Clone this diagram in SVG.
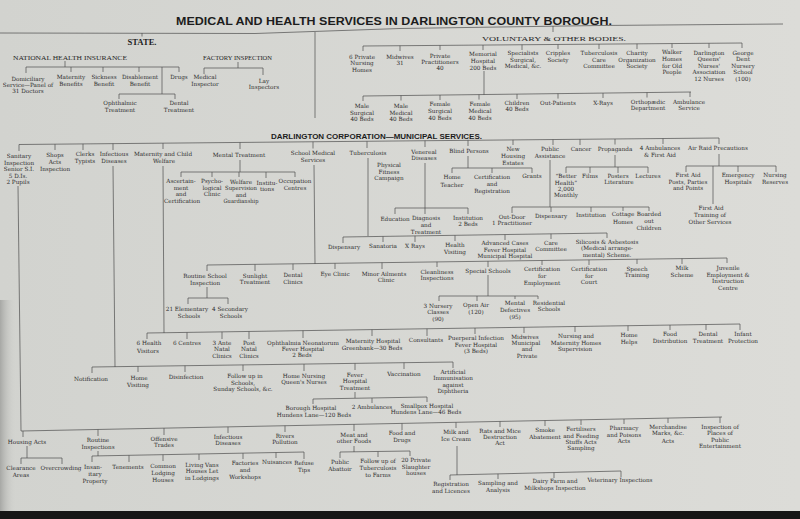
<svg xmlns="http://www.w3.org/2000/svg" width="800" height="519" viewBox="0 0 800 519">
<defs>
<linearGradient id="bg" x1="0" y1="0" x2="1" y2="0"><stop offset="0" stop-color="#d2d3cf"/><stop offset="1" stop-color="#dcdcd8"/></linearGradient>
<linearGradient id="sh" x1="0" y1="0" x2="1" y2="0"><stop offset="0" stop-color="#9c9d9a" stop-opacity="0.8"/><stop offset="1" stop-color="#d2d3cf" stop-opacity="0"/></linearGradient>
<style>
.t{font-family:"DejaVu Serif","Liberation Serif",serif;font-size:5.7px;fill:#2f2f2f;text-anchor:middle}
.c{stroke:#4d4d4d;stroke-width:0.7;fill:none}
.h1{font-family:"Liberation Sans","DejaVu Sans",sans-serif;font-weight:bold;font-size:10px;fill:#1c1c1c}
.h2{font-family:"Liberation Sans","DejaVu Sans",sans-serif;font-weight:bold;font-size:8px;fill:#1c1c1c}
.cap{font-family:"Liberation Serif","DejaVu Serif",serif;font-size:7px;fill:#262626}
</style>
</defs>
<rect width="800" height="519" fill="url(#bg)"/>
<rect x="0" y="300" width="16" height="211" fill="url(#sh)"/>
<rect x="0" y="511" width="800" height="8" fill="#161616"/>

<g id="headings">
<text class="h1" x="176" y="25" textLength="436" lengthAdjust="spacingAndGlyphs">MEDICAL AND HEALTH SERVICES IN DARLINGTON COUNTY BOROUGH.</text>
<text class="h2" x="271" y="139" textLength="211" lengthAdjust="spacingAndGlyphs">DARLINGTON CORPORATION—MUNICIPAL SERVICES.</text>
</g>

<g id="connectors">
<path class="c" stroke-width="1" d="M0,33 L255,33.5 L400,28.5 L600,25.5 L783,24"/>
<path class="c" d="M142,33 V36.5 M553,26 V32 M315,32 V118"/>
<path class="c" d="M65,61 V67 M26,67 H179 M26,67 V73 M71,67 V72 M103,67 V72 M139,67 V72 M179,67 V72 M162,67 V94 M119,94 H175 M119,94 V99 M175,94 V99"/>
<path class="c" d="M238,62 V68 M204,68 H263 M204,68 V74 M263,68 V75"/>
<path class="c" d="M363,46 L742,43 M363,46 V51 M400,45.7 V51 M440,45.4 V50 M483,45 V50 M522,44.7 V50 M558,44.5 V49 M599,44.1 V49 M637,43.8 V49 M672,43.6 V48 M709,43.3 V48 M742,43 V48"/>
<path class="c" d="M484,71 V94.8 M363,96 L691,92 M363,96 V101 M401,95.5 V100.5 M440,95 V100 M479,94.6 V99.6 M517,94.1 V99 M558,93.6 V98.6 M603,93.1 V98 M647,92.5 V97.5 M690,92 V97"/>
<path class="c" d="M19,144.5 L719,138 M19,144.5 V151 M55,144.2 V150 M83,143.9 V150 M113,143.6 V150 M163,143.2 V149 M240,142.4 V149 M313,141.8 V148.5 M367,141.3 V148 M425,140.7 V147 M468,140.3 V146 M513,139.9 V145 M553,139.5 V145 M580,139.3 V145 M615,139 V144.5 M663,138.5 V144 M719,138 V144"/>
<path class="c" d="M18,186 L21,431 M113,166 L115,367 M163,166 L164,333"/>
<path class="c" d="M240,160 V172 M181,172 H295 M181,172 V177 M212,172 V177 M239,172 V177 M266,172 V178 M295,172 V177"/>
<path class="c" d="M314,165 L315,264 M207,265 L727,258 M207,265 V271 M255,264.4 V271 M293,263.8 V270 M335,263.3 V269 M382,262.6 V269 M437,261.9 V267 M488,261.2 V267 M542,260.5 V265 M589,259.9 V265 M637,259.2 V264 M682,258.6 V264 M727,258 V263"/>
<path class="c" d="M207,287 V298 M188,298 H228 M188,298 V304 M228,298 V304"/>
<path class="c" d="M488,275 V296 M439,296 H538 M439,296 V301 M477,296 V301 M515,296 V299 M538,296 V299"/>
<path class="c" d="M368,158 V236 M343,237 L607,233 M343,237 V243 M383,236.4 V242 M415,235.9 V242 M455,235.3 V241 M505,234.5 V240 M551,233.8 V239 M607,233 V238"/>
<path class="c" d="M425,163 V208 M395,208 H468 M395,208 V214 M425,208 V214 M468,208 V214"/>
<path class="c" d="M468,156 V168 M452,168 H532 M452,168 V173 M492,168 V173 M532,168 V173"/>
<path class="c" d="M550,160 V207 M512,207 H649 M512,207 V213 M551,207 V212 M591,207 V212 M623,207 V211 M649,207 V211"/>
<path class="c" d="M615,155 V167 M566,167 H648 M566,167 V173 M590,167 V173 M618,167 V173 M648,167 V173"/>
<path class="c" d="M719,154 V166 M686,166 H776 M686,166 V172 M738,166 V172 M776,166 V172 M713,166 V204"/>
<path class="c" d="M147,333 L740,324 M147,333 V339 M187,332.4 V339 M222,331.9 V339 M249,331.5 V339 M303,330.6 V338 M372,329.6 V336 M427,328.8 V336 M475,328 V334 M524,327.3 V333 M575,326.5 V332 M628,325.7 V331 M670,325.1 V330 M706,324.5 V330 M740,324 V330"/>
<path class="c" d="M92,367 L453,362 M92,367 V373 M138,366.4 V372 M185,365.7 V372 M243,364.9 V371 M304,364.1 V371 M355,363.4 V370 M404,362.7 V369 M453,362 V368"/>
<path class="c" d="M355,392 V398 M313,399 L427,397 M313,399 V404 M372,398 V403 M427,397 V402"/>
<path class="c" d="M21,431 L722,417 M23,431 V437 M98,429.5 V436 M164,428.1 V435 M228,426.9 V433 M285,425.7 V432 M354,424.3 V431 M402,423.4 V430 M456,422.3 V428 M500,421.4 V427 M545,420.5 V426 M581,419.8 V425 M624,419 V424 M668,418.1 V423 M720,417 V423"/>
<path class="c" d="M27,446 V458 M21,458 H62 M21,458 V464 M62,458 V464"/>
<path class="c" d="M98,451 V456 M92,456 L304,452 M92,456 V462 M129,455.3 V462 M163,454.7 V461 M199,454 V460 M243,453.2 V459 M276,452.5 V458 M304,452 V459"/>
<path class="c" d="M354,446 V452 M340,452 L410,451 M340,452 V458 M378,451.6 V457 M410,451 V456"/>
<path class="c" d="M457,446 V475 M450,475 L621,471 M450,475 V480 M498,473.9 V479 M554,472.6 V478 M621,471 V477"/>
</g>

<g id="state"><text x="142" y="45" text-anchor="middle" font-family="Liberation Serif,DejaVu Serif,serif" font-weight="bold" font-size="8" fill="#1f1f1f" textLength="29" lengthAdjust="spacingAndGlyphs">STATE.</text></g>
<g id="nhi"><text class="cap" x="13" y="60" textLength="114" lengthAdjust="spacingAndGlyphs">NATIONAL HEALTH INSURANCE</text></g>
<g id="domiciliary"><text class="t"><tspan x="28" y="81">Domiciliary</tspan><tspan x="28" y="87">Service—Panel of</tspan><tspan x="28" y="93">31 Doctors</tspan></text></g>
<g id="maternity-benefits"><text class="t"><tspan x="71" y="79">Maternity</tspan><tspan x="71" y="86">Benefits</tspan></text></g>
<g id="sickness"><text class="t"><tspan x="104" y="79">Sickness</tspan><tspan x="104" y="86">Benefit</tspan></text></g>
<g id="disablement"><text class="t"><tspan x="140" y="79">Disablement</tspan><tspan x="140" y="86">Benefit</tspan></text></g>
<g id="drugs"><text class="t" x="179" y="79">Drugs</text></g>
<g id="ophthalmic"><text class="t"><tspan x="120" y="105">Ophthalmic</tspan><tspan x="120" y="112">Treatment</tspan></text></g>
<g id="dental-nhi"><text class="t"><tspan x="179" y="105">Dental</tspan><tspan x="179" y="112">Treatment</tspan></text></g>

<g id="factory"><text class="cap" x="203" y="60" font-size="6.5" textLength="69" lengthAdjust="spacingAndGlyphs">FACTORY INSPECTION</text></g>
<g id="medical-inspector"><text class="t"><tspan x="205" y="79">Medical</tspan><tspan x="205" y="86">Inspector</tspan></text></g>
<g id="lay-inspectors"><text class="t"><tspan x="264" y="83">Lay</tspan><tspan x="264" y="89">Inspectors</tspan></text></g>

<g id="voluntary"><text class="cap" x="482" y="41" font-size="7.5" textLength="144" lengthAdjust="spacingAndGlyphs">VOLUNTARY &amp; OTHER BODIES.</text></g>
<g id="nursing-homes"><text class="t"><tspan x="362" y="59">6 Private</tspan><tspan x="362" y="65">Nursing</tspan><tspan x="362" y="72">Homes</tspan></text></g>
<g id="midwives-vol"><text class="t"><tspan x="400" y="59">Midwives</tspan><tspan x="400" y="65">31</tspan></text></g>
<g id="practitioners"><text class="t"><tspan x="440" y="58">Private</tspan><tspan x="440" y="64">Practitioners</tspan><tspan x="440" y="70">40</tspan></text></g>
<g id="memorial"><text class="t"><tspan x="483" y="56">Memorial</tspan><tspan x="483" y="63">Hospital</tspan><tspan x="483" y="70">200 Beds</tspan></text></g>
<g id="specialists"><text class="t"><tspan x="523" y="55">Specialists</tspan><tspan x="523" y="62">Surgical,</tspan><tspan x="523" y="68">Medical, &amp;c.</tspan></text></g>
<g id="cripples"><text class="t"><tspan x="558" y="55">Cripples</tspan><tspan x="558" y="62">Society</tspan></text></g>
<g id="tb-care"><text class="t"><tspan x="599" y="55">Tuberculosis</tspan><tspan x="599" y="62">Care</tspan><tspan x="599" y="68">Committee</tspan></text></g>
<g id="charity"><text class="t"><tspan x="637" y="55">Charity</tspan><tspan x="637" y="62">Organization</tspan><tspan x="637" y="68">Society</tspan></text></g>
<g id="walker"><text class="t"><tspan x="672" y="54">Walker</tspan><tspan x="672" y="61">Homes</tspan><tspan x="672" y="68">for Old</tspan><tspan x="672" y="74">People</tspan></text></g>
<g id="queens-nurses"><text class="t"><tspan x="709" y="55">Darlington</tspan><tspan x="709" y="61">Queens'</tspan><tspan x="709" y="68">Nurses'</tspan><tspan x="709" y="74">Association</tspan><tspan x="709" y="81">12 Nurses</tspan></text></g>
<g id="george-dent"><text class="t"><tspan x="743" y="55">George</tspan><tspan x="743" y="61">Dent</tspan><tspan x="743" y="68">Nursery</tspan><tspan x="743" y="74">School</tspan><tspan x="743" y="81">(100)</tspan></text></g>

<g id="male-surgical"><text class="t"><tspan x="362" y="108">Male</tspan><tspan x="362" y="115">Surgical</tspan><tspan x="362" y="121">40 Beds</tspan></text></g>
<g id="male-medical"><text class="t"><tspan x="401" y="108">Male</tspan><tspan x="401" y="115">Medical</tspan><tspan x="401" y="121">40 Beds</tspan></text></g>
<g id="female-surgical"><text class="t"><tspan x="440" y="106">Female</tspan><tspan x="440" y="113">Surgical</tspan><tspan x="440" y="120">40 Beds</tspan></text></g>
<g id="female-medical"><text class="t"><tspan x="480" y="106">Female</tspan><tspan x="480" y="113">Medical</tspan><tspan x="480" y="120">40 Beds</tspan></text></g>
<g id="children-beds"><text class="t"><tspan x="517" y="105">Children</tspan><tspan x="517" y="111">40 Beds</tspan></text></g>
<g id="out-patients"><text class="t" x="558" y="105">Out-Patients</text></g>
<g id="x-rays-hosp"><text class="t" x="603" y="105">X-Rays</text></g>
<g id="orthopaedic"><text class="t"><tspan x="648" y="104">Orthopædic</tspan><tspan x="648" y="110">Department</tspan></text></g>
<g id="ambulance"><text class="t"><tspan x="689" y="104">Ambulance</tspan><tspan x="689" y="110">Service</tspan></text></g>

<g id="sanitary"><text class="t"><tspan x="19" y="158">Sanitary</tspan><tspan x="19" y="164.5">Inspection</tspan><tspan x="19" y="171">Senior S.I.</tspan><tspan x="18" y="177.5">5 D.Is.</tspan><tspan x="18" y="184">2 Pupils</tspan></text></g>
<g id="shops"><text class="t"><tspan x="55" y="157">Shops</tspan><tspan x="55" y="164">Acts</tspan><tspan x="55" y="170.5">Inspection</tspan></text></g>
<g id="clerks"><text class="t"><tspan x="85" y="156">Clerks</tspan><tspan x="85" y="163">Typists</tspan></text></g>
<g id="infectious"><text class="t"><tspan x="114" y="156">Infectious</tspan><tspan x="114" y="163">Diseases</tspan></text></g>
<g id="maternity-child"><text class="t"><tspan x="163" y="156">Maternity and Child</tspan><tspan x="164" y="163">Welfare</tspan></text></g>
<g id="mental"><text class="t" x="239" y="157">Mental Treatment</text></g>
<g id="school-medical"><text class="t"><tspan x="313" y="155">School Medical</tspan><tspan x="313" y="162">Services</tspan></text></g>
<g id="tuberculosis"><text class="t" x="368" y="155">Tuberculosis</text></g>
<g id="physical"><text class="t"><tspan x="389" y="167">Physical</tspan><tspan x="389" y="173.5">Fitness</tspan><tspan x="389" y="180">Campaign</tspan></text></g>
<g id="venereal"><text class="t"><tspan x="424" y="154">Venereal</tspan><tspan x="424" y="160">Diseases</tspan></text></g>
<g id="blind"><text class="t" x="469" y="153">Blind Persons</text></g>
<g id="housing-estates"><text class="t"><tspan x="513" y="151">New</tspan><tspan x="513" y="158">Housing</tspan><tspan x="513" y="165">Estates</tspan></text></g>
<g id="public-assistance"><text class="t"><tspan x="550" y="151">Public</tspan><tspan x="550" y="158">Assistance</tspan></text></g>
<g id="cancer"><text class="t" x="581" y="151">Cancer</text></g>
<g id="propaganda"><text class="t" x="615" y="151">Propaganda</text></g>
<g id="ambulances-4"><text class="t"><tspan x="660" y="150">4 Ambulances</tspan><tspan x="660" y="157">&amp; First Aid</tspan></text></g>
<g id="air-raid"><text class="t" x="718" y="150">Air Raid Precautions</text></g>

<g id="ascertainment"><text class="t"><tspan x="181" y="183">Ascertain-</tspan><tspan x="181" y="189.5">ment</tspan><tspan x="181" y="196">and</tspan><tspan x="182" y="202.5">Certification</tspan></text></g>
<g id="psychological"><text class="t"><tspan x="212" y="183">Psycho-</tspan><tspan x="212" y="189.5">logical</tspan><tspan x="212" y="196">Clinic</tspan></text></g>
<g id="welfare-supervision"><text class="t"><tspan x="241" y="183.5">Welfare</tspan><tspan x="241" y="190" textLength="32" lengthAdjust="spacingAndGlyphs">Supervision</tspan><tspan x="241" y="196.5">and</tspan><tspan x="241" y="203" textLength="35" lengthAdjust="spacingAndGlyphs">Guardianship</tspan></text></g>
<g id="institutions-mt"><text class="t"><tspan x="267" y="184.5">Institu-</tspan><tspan x="267" y="191">tions</tspan></text></g>
<g id="occupation"><text class="t"><tspan x="295" y="183">Occupation</tspan><tspan x="295" y="189.5">Centres</tspan></text></g>

<g id="home-teacher"><text class="t"><tspan x="452" y="179">Home</tspan><tspan x="452" y="187">Teacher</tspan></text></g>
<g id="cert-registration"><text class="t"><tspan x="492" y="179">Certification</tspan><tspan x="492" y="186">and</tspan><tspan x="492" y="193">Registration</tspan></text></g>
<g id="grants"><text class="t" x="532" y="178">Grants</text></g>
<g id="better-health"><text class="t"><tspan x="566" y="178">“Better</tspan><tspan x="566" y="185">Health”</tspan><tspan x="566" y="191">2,000</tspan><tspan x="566" y="197">Monthly</tspan></text></g>
<g id="films"><text class="t" x="590" y="178">Films</text></g>
<g id="posters"><text class="t"><tspan x="618" y="178">Posters</tspan><tspan x="619" y="184">Literature</tspan></text></g>
<g id="lectures"><text class="t" x="648" y="178">Lectures</text></g>
<g id="first-aid-posts"><text class="t"><tspan x="688" y="177">First Aid</tspan><tspan x="688" y="184">Posts, Parties</tspan><tspan x="688" y="190">and Points</tspan></text></g>
<g id="emergency"><text class="t"><tspan x="738" y="177">Emergency</tspan><tspan x="738" y="184">Hospitals</tspan></text></g>
<g id="nursing-reserves"><text class="t"><tspan x="775" y="177">Nursing</tspan><tspan x="775" y="184">Reserves</tspan></text></g>
<g id="first-aid-training"><text class="t"><tspan x="711" y="210">First Aid</tspan><tspan x="710" y="217">Training of</tspan><tspan x="710" y="224">Other Services</tspan></text></g>

<g id="education"><text class="t" x="395" y="221">Education</text></g>
<g id="diagnosis"><text class="t"><tspan x="426" y="220">Diagnosis</tspan><tspan x="426" y="227">and</tspan><tspan x="426" y="234">Treatment</tspan></text></g>
<g id="institution-2beds"><text class="t"><tspan x="468" y="220">Institution</tspan><tspan x="468" y="226">2 Beds</tspan></text></g>
<g id="out-door"><text class="t"><tspan x="512" y="219">Out-Door</tspan><tspan x="512" y="225">1 Practitioner</tspan></text></g>
<g id="dispensary-pa"><text class="t" x="551" y="218">Dispensary</text></g>
<g id="institution-pa"><text class="t" x="591" y="217">Institution</text></g>
<g id="cottage"><text class="t"><tspan x="623" y="216">Cottage</tspan><tspan x="623" y="224">Homes</tspan></text></g>
<g id="boarded"><text class="t"><tspan x="649" y="216">Boarded</tspan><tspan x="649" y="223">out</tspan><tspan x="649" y="230">Children</tspan></text></g>

<g id="dispensary-tb"><text class="t" x="344" y="249">Dispensary</text></g>
<g id="sanatoria"><text class="t" x="383" y="248">Sanatoria</text></g>
<g id="x-rays-tb"><text class="t" x="415" y="248">X Rays</text></g>
<g id="health-visiting"><text class="t"><tspan x="455" y="247">Health</tspan><tspan x="455" y="254">Visiting</tspan></text></g>
<g id="advanced-cases"><text class="t"><tspan x="505" y="245">Advanced Cases</tspan><tspan x="505" y="252">Fever Hospital</tspan><tspan x="505" y="258">Municipal Hospital</tspan></text></g>
<g id="care-committee"><text class="t"><tspan x="551" y="245">Care</tspan><tspan x="551" y="251">Committee</tspan></text></g>
<g id="silicosis"><text class="t"><tspan x="607" y="244">Silicosis &amp; Asbestosis</tspan><tspan x="607" y="250">(Medical arrange-</tspan><tspan x="607" y="257">mental) Scheme.</tspan></text></g>

<g id="routine-school"><text class="t"><tspan x="205" y="278">Routine School</tspan><tspan x="205" y="285">Inspection</tspan></text></g>
<g id="sunlight"><text class="t"><tspan x="255" y="278">Sunlight</tspan><tspan x="255" y="284">Treatment</tspan></text></g>
<g id="dental-clinics"><text class="t"><tspan x="293" y="277">Dental</tspan><tspan x="293" y="284">Clinics</tspan></text></g>
<g id="eye-clinic"><text class="t" x="335" y="276">Eye Clinic</text></g>
<g id="minor-ailments"><text class="t"><tspan x="384" y="276">Minor Ailments</tspan><tspan x="386" y="282">Clinic</tspan></text></g>
<g id="cleanliness"><text class="t"><tspan x="437" y="274">Cleanliness</tspan><tspan x="437" y="280">Inspections</tspan></text></g>
<g id="special-schools"><text class="t" x="488" y="273">Special Schools</text></g>
<g id="cert-employment"><text class="t"><tspan x="542" y="271">Certification</tspan><tspan x="542" y="278">for</tspan><tspan x="542" y="285">Employment</tspan></text></g>
<g id="cert-court"><text class="t"><tspan x="589" y="271">Certification</tspan><tspan x="589" y="278">for</tspan><tspan x="589" y="284">Court</tspan></text></g>
<g id="speech"><text class="t"><tspan x="637" y="271">Speech</tspan><tspan x="637" y="277">Training</tspan></text></g>
<g id="milk-scheme"><text class="t"><tspan x="682" y="270">Milk</tspan><tspan x="682" y="277">Scheme</tspan></text></g>
<g id="juvenile"><text class="t"><tspan x="728" y="270">Juvenile</tspan><tspan x="728" y="277">Employment &amp;</tspan><tspan x="728" y="283">Instruction</tspan><tspan x="728" y="290">Centre</tspan></text></g>

<g id="elementary"><text class="t"><tspan x="187" y="311">21 Elementary</tspan><tspan x="189" y="318">Schools</tspan></text></g>
<g id="secondary"><text class="t"><tspan x="230" y="311">4 Secondary</tspan><tspan x="231" y="318">Schools</tspan></text></g>
<g id="nursery-classes"><text class="t"><tspan x="438" y="308">3 Nursery</tspan><tspan x="438" y="314">Classes</tspan><tspan x="438" y="321">(90)</tspan></text></g>
<g id="open-air"><text class="t"><tspan x="476" y="307">Open Air</tspan><tspan x="476" y="314">(120)</tspan></text></g>
<g id="mental-defectives"><text class="t"><tspan x="515" y="305">Mental</tspan><tspan x="515" y="312">Defectives</tspan><tspan x="515" y="319">(95)</tspan></text></g>
<g id="residential"><text class="t"><tspan x="549" y="305">Residential</tspan><tspan x="549" y="311">Schools</tspan></text></g>

<g id="health-visitors"><text class="t"><tspan x="149" y="345">6 Health</tspan><tspan x="148" y="353">Visitors</tspan></text></g>
<g id="centres"><text class="t" x="187" y="345">6 Centres</text></g>
<g id="ante-natal"><text class="t"><tspan x="222" y="345">3 Ante</tspan><tspan x="222" y="351">Natal</tspan><tspan x="222" y="358">Clinics</tspan></text></g>
<g id="post-natal"><text class="t"><tspan x="249" y="345">Post</tspan><tspan x="249" y="351">Natal</tspan><tspan x="249" y="358">Clinics</tspan></text></g>
<g id="ophthalmia"><text class="t"><tspan x="303" y="345">Ophthalmia Neonatorum</tspan><tspan x="303" y="351">Fever  Hospital</tspan><tspan x="302" y="357">2 Beds</tspan></text></g>
<g id="maternity-hospital"><text class="t"><tspan x="373" y="342.5">Maternity Hospital</tspan><tspan x="372" y="350">Greenbank—30 Beds</tspan></text></g>
<g id="consultants"><text class="t" x="426" y="342">Consultants</text></g>
<g id="puerperal"><text class="t"><tspan x="476" y="340">Puerperal Infection</tspan><tspan x="476" y="346.5">Fever  Hospital</tspan><tspan x="476" y="353">(3 Beds)</tspan></text></g>
<g id="midwives-mun"><text class="t"><tspan x="525" y="339">Midwives</tspan><tspan x="526" y="345">Municipal</tspan><tspan x="527" y="351">and</tspan><tspan x="527" y="358">Private</tspan></text></g>
<g id="nursing-homes-sup"><text class="t"><tspan x="576" y="338">Nursing and</tspan><tspan x="576" y="344.5">Maternity Homes</tspan><tspan x="575" y="351">Supervision</tspan></text></g>
<g id="home-helps"><text class="t"><tspan x="629" y="337">Home</tspan><tspan x="629" y="344">Helps</tspan></text></g>
<g id="food-distribution"><text class="t"><tspan x="670" y="336">Food</tspan><tspan x="670" y="343">Distribution</tspan></text></g>
<g id="dental-treatment"><text class="t"><tspan x="708" y="336">Dental</tspan><tspan x="708" y="343">Treatment</tspan></text></g>
<g id="infant-protection"><text class="t"><tspan x="743" y="336">Infant</tspan><tspan x="743" y="343">Protection</tspan></text></g>

<g id="notification"><text class="t" x="91" y="381">Notification</text></g>
<g id="home-visiting"><text class="t"><tspan x="139" y="380">Home</tspan><tspan x="138" y="387">Visiting</tspan></text></g>
<g id="disinfection"><text class="t" x="186" y="379">Disinfection</text></g>
<g id="follow-schools"><text class="t"><tspan x="245" y="378">Follow up in</tspan><tspan x="243" y="385">Schools,</tspan><tspan x="243" y="391">Sunday Schools, &amp;c.</tspan></text></g>
<g id="home-nursing"><text class="t"><tspan x="304" y="378">Home Nursing</tspan><tspan x="304" y="384">Queen's Nurses</tspan></text></g>
<g id="fever-treatment"><text class="t"><tspan x="355" y="377">Fever</tspan><tspan x="355" y="383">Hospital</tspan><tspan x="355" y="390">Treatment</tspan></text></g>
<g id="vaccination"><text class="t" x="404" y="376">Vaccination</text></g>
<g id="immunisation"><text class="t"><tspan x="453" y="374">Artificial</tspan><tspan x="453" y="380">Immunisation</tspan><tspan x="453" y="387">against</tspan><tspan x="453" y="393">Diphtheria</tspan></text></g>
<g id="borough-hospital"><text class="t"><tspan x="311" y="410">Borough  Hospital</tspan><tspan x="314" y="417">Hundens Lane—120 Beds</tspan></text></g>
<g id="ambulances-2"><text class="t" x="372" y="409">2 Ambulances</text></g>
<g id="smallpox"><text class="t"><tspan x="427" y="408">Smallpox Hospital</tspan><tspan x="426" y="414">Hundens Lane—46 Beds</tspan></text></g>

<g id="housing-acts"><text class="t" x="27" y="444">Housing Acts</text></g>
<g id="routine-inspections"><text class="t"><tspan x="98" y="442">Routine</tspan><tspan x="98" y="449">Inspections</tspan></text></g>
<g id="offensive-trades"><text class="t"><tspan x="164" y="441">Offensive</tspan><tspan x="164" y="447">Trades</tspan></text></g>
<g id="infectious-san"><text class="t"><tspan x="228" y="439">Infectious</tspan><tspan x="228" y="445">Diseases</tspan></text></g>
<g id="rivers"><text class="t"><tspan x="285" y="438">Rivers</tspan><tspan x="285" y="444">Pollution</tspan></text></g>
<g id="meat"><text class="t"><tspan x="354" y="437">Meat and</tspan><tspan x="354" y="443">other Foods</tspan></text></g>
<g id="food-drugs"><text class="t"><tspan x="402" y="435">Food and</tspan><tspan x="402" y="442">Drugs</tspan></text></g>
<g id="milk-ice"><text class="t"><tspan x="456" y="434">Milk and</tspan><tspan x="456" y="441">Ice Cream</tspan></text></g>
<g id="rats"><text class="t"><tspan x="500" y="433">Rats and Mice</tspan><tspan x="500" y="439">Destruction</tspan><tspan x="500" y="445">Act</tspan></text></g>
<g id="smoke"><text class="t"><tspan x="545" y="432">Smoke</tspan><tspan x="545" y="439">Abatement</tspan></text></g>
<g id="fertilisers"><text class="t"><tspan x="581" y="431">Fertilisers</tspan><tspan x="581" y="438">and Feeding</tspan><tspan x="581" y="444">Stuffs Acts</tspan><tspan x="581" y="450">Sampling</tspan></text></g>
<g id="pharmacy"><text class="t"><tspan x="624" y="430">Pharmacy</tspan><tspan x="624" y="437">and Poisons</tspan><tspan x="624" y="443">Acts</tspan></text></g>
<g id="merchandise"><text class="t"><tspan x="668" y="429">Merchandise</tspan><tspan x="668" y="435">Marks, &amp;c.</tspan><tspan x="668" y="443">Acts</tspan></text></g>
<g id="entertainment"><text class="t"><tspan x="720" y="429">Inspection of</tspan><tspan x="720" y="435">Places of</tspan><tspan x="720" y="442">Public</tspan><tspan x="720" y="448">Entertainment</tspan></text></g>

<g id="clearance"><text class="t"><tspan x="21" y="470">Clearance</tspan><tspan x="21" y="477">Areas</tspan></text></g>
<g id="overcrowding"><text class="t" x="61" y="470">Overcrowding</text></g>
<g id="insanitary"><text class="t"><tspan x="93" y="469">Insan-</tspan><tspan x="95" y="476">itary</tspan><tspan x="95" y="483">Property</tspan></text></g>
<g id="tenements"><text class="t" x="128" y="469">Tenements</text></g>
<g id="lodging"><text class="t"><tspan x="163" y="468">Common</tspan><tspan x="163" y="475">Lodging</tspan><tspan x="163" y="482">Houses</tspan></text></g>
<g id="living-vans"><text class="t"><tspan x="202" y="467">Living Vans</tspan><tspan x="202" y="473">Houses Let</tspan><tspan x="202" y="480">in Lodgings</tspan></text></g>
<g id="factories"><text class="t"><tspan x="245" y="465">Factories</tspan><tspan x="245" y="472">and</tspan><tspan x="245" y="479">Workshops</tspan></text></g>
<g id="nuisances"><text class="t" x="277" y="464">Nuisances</text></g>
<g id="refuse"><text class="t"><tspan x="304" y="465">Refuse</tspan><tspan x="304" y="472">Tips</tspan></text></g>
<g id="abattoir"><text class="t"><tspan x="340" y="464">Public</tspan><tspan x="340" y="471">Abattoir</tspan></text></g>
<g id="follow-tb"><text class="t"><tspan x="378" y="463">Follow up of</tspan><tspan x="378" y="470">Tuberculosis</tspan><tspan x="378" y="477">to Farms</tspan></text></g>
<g id="slaughter"><text class="t"><tspan x="416" y="462">20 Private</tspan><tspan x="416" y="469">Slaughter</tspan><tspan x="416" y="475">houses</tspan></text></g>
<g id="registration"><text class="t"><tspan x="451" y="486">Registration</tspan><tspan x="451" y="493">and Licences</tspan></text></g>
<g id="sampling"><text class="t"><tspan x="498" y="485">Sampling and</tspan><tspan x="498" y="492">Analysis</tspan></text></g>
<g id="dairy"><text class="t"><tspan x="555" y="483">Dairy Farm and</tspan><tspan x="555" y="490">Milkshops Inspection</tspan></text></g>
<g id="veterinary"><text class="t" x="620" y="482">Veterinary Inspections</text></g>
</svg>
